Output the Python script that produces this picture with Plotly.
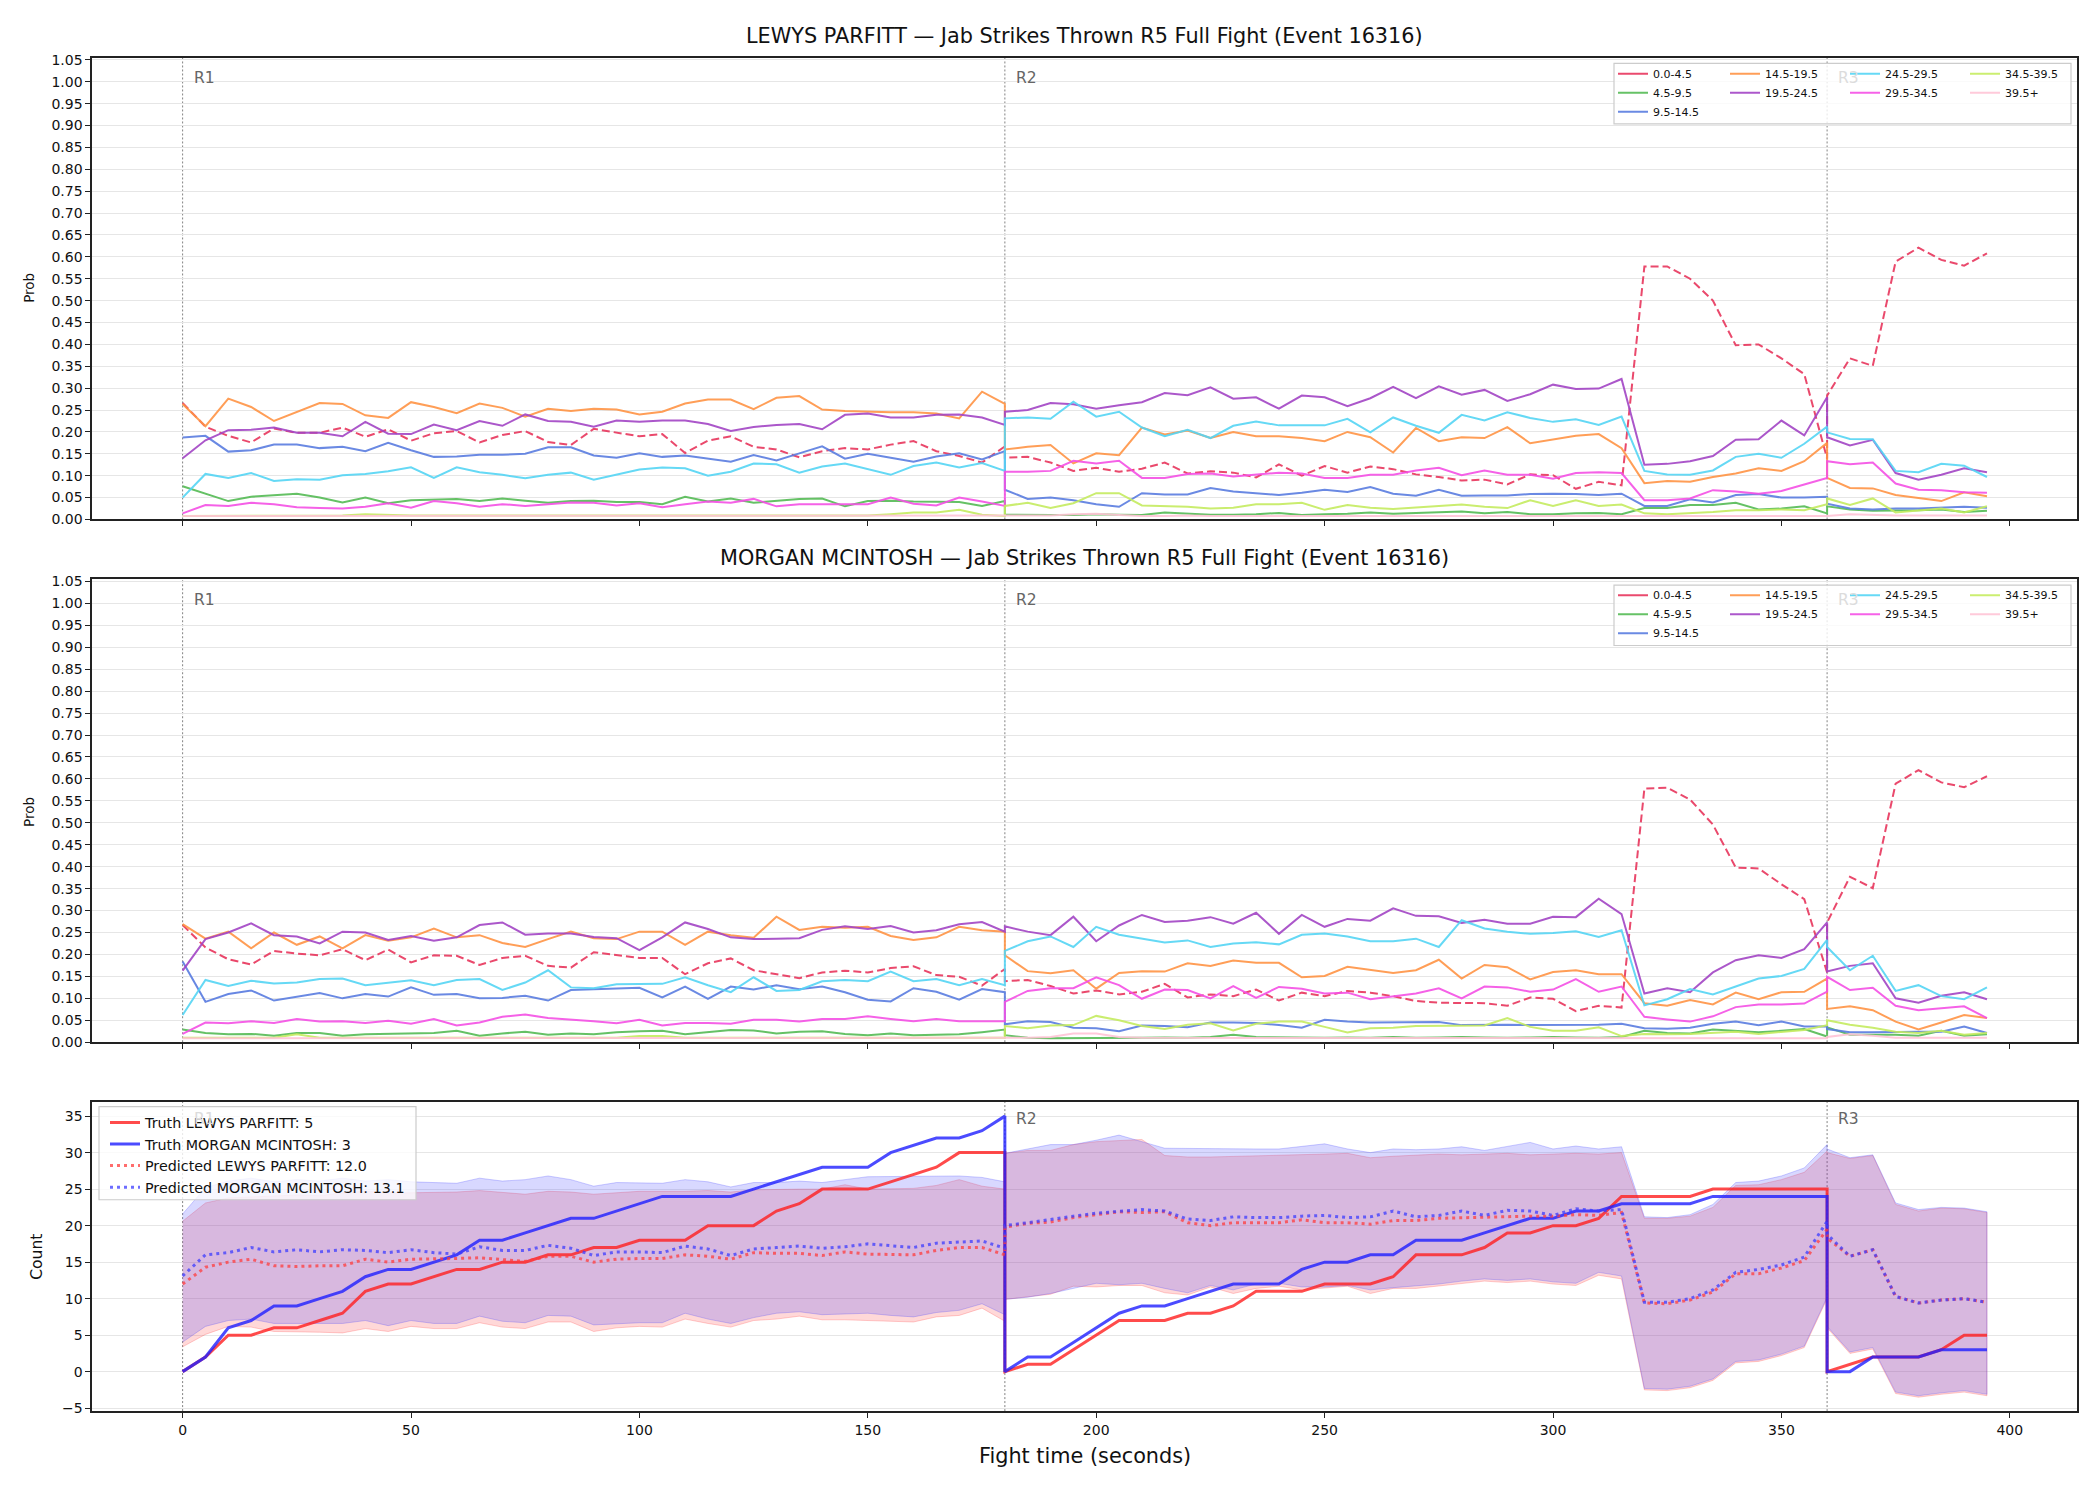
import plotly.graph_objects as go

# ---------------- time axis (seconds); rounds share boundary points ----------------
T_R1 = list(range(0, 181, 5))
T_R2 = list(range(180, 361, 5))
T_R3 = list(range(360, 396, 5))
TIME = T_R1 + T_R2 + T_R3
ROUND_STARTS = [0, 180, 360]
ROUND_LABELS = ["R1", "R2", "R3"]

BINS = ["0.0-4.5", "4.5-9.5", "9.5-14.5", "14.5-19.5", "19.5-24.5",
        "24.5-29.5", "29.5-34.5", "34.5-39.5", "39.5+"]
BIN_COLORS = ["#e8365d", "#55bb55", "#5a7de0", "#ff9445", "#a345c5",
              "#55d5f5", "#f550e5", "#c5ec60", "#ffc4d6"]

# ---------------- LEWYS PARFITT probabilities ----------------
LP_00 = ([.266, .212, .191, .176, .208, .198, .198, .21, .189, .206, .18, .197, .202, .176, .193, .202, .177, .17, .207,
          .198, .19, .195, .152, .18, .19, .166, .16, .142, .156, .163, .16, .171, .179, .156, .145, .13, .167]
         + [.141, .143, .13, .111, .118, .109, .116, .13, .105, .11, .107, .096, .126, .10, .122, .107, .121, .115,
            .103, .097, .089, .091, .08, .103, .101, .07, .086, .078, .578, .578, .55, .50, .398, .40, .368, .332, .139]
         + [.283, .368, .351, .589, .621, .593, .58, .608])
LP_45 = ([.076, .059, .042, .052, .055, .059, .05, .039, .05, .037, .044, .046, .047, .042, .048, .043, .038, .042, .043,
          .04, .04, .035, .052, .041, .048, .038, .043, .047, .048, .03, .042, .043, .041, .04, .04, .031, .042]
         + [.011, .01, .01, .01, .012, .011, .01, .016, .013, .011, .011, .012, .015, .01, .012, .013, .016, .013,
            .015, .017, .018, .014, .017, .012, .012, .014, .015, .012, .026, .026, .033, .033, .038, .023, .025, .03, .014]
         + [.03, .023, .02, .02, .021, .023, .017, .02])
LP_95 = ([.187, .191, .155, .158, .171, .171, .163, .166, .156, .175, .158, .143, .144, .148, .148, .15, .165, .165, .146,
          .141, .151, .143, .146, .139, .132, .147, .135, .151, .167, .139, .15, .141, .132, .144, .151, .137, .156]
         + [.068, .047, .05, .044, .035, .029, .06, .057, .057, .072, .064, .06, .056, .061, .068, .063, .074, .059,
            .054, .068, .054, .055, .055, .058, .059, .058, .056, .059, .031, .031, .046, .039, .056, .058, .05, .05, .052]
         + [.036, .025, .023, .025, .025, .027, .029, .027])
LP_145 = ([.264, .213, .276, .257, .225, .246, .266, .264, .238, .232, .268, .257, .243, .265, .255, .235, .253, .248, .253,
           .251, .24, .246, .265, .274, .274, .252, .278, .282, .251, .248, .246, .245, .245, .242, .231, .292, .264]
          + [.16, .166, .17, .128, .151, .147, .21, .194, .203, .186, .20, .19, .19, .186, .179, .20, .188, .153,
             .209, .179, .188, .186, .211, .174, .183, .191, .195, .163, .083, .088, .086, .097, .105, .117, .111, .133, .175]
          + [.095, .072, .071, .056, .049, .042, .062, .053])
LP_195 = ([.14, .181, .204, .205, .21, .198, .198, .19, .223, .196, .195, .217, .204, .225, .214, .24, .225, .223, .212,
           .226, .223, .226, .226, .218, .202, .211, .216, .218, .206, .239, .242, .233, .233, .239, .24, .233, .216]
          + [.246, .25, .266, .263, .253, .261, .268, .289, .284, .302, .276, .279, .253, .283, .279, .259, .277, .303,
             .277, .304, .285, .296, .271, .286, .308, .298, .299, .321, .125, .127, .133, .145, .182, .183, .226, .192, .279]
          + [.188, .169, .182, .106, .091, .102, .117, .108])
LP_245 = ([.05, .104, .095, .106, .088, .092, .091, .101, .104, .11, .119, .095, .119, .108, .102, .094, .102, .107, .091,
           .103, .114, .119, .117, .10, .109, .128, .126, .107, .121, .128, .115, .102, .122, .13, .119, .129, .111]
          + [.231, .233, .23, .269, .235, .246, .21, .19, .205, .186, .214, .224, .215, .215, .215, .23, .199, .233,
             .214, .198, .239, .226, .245, .232, .223, .229, .216, .235, .111, .103, .102, .112, .143, .15, .141, .173, .212]
          + [.199, .184, .183, .111, .108, .127, .123, .097])
LP_295 = ([.014, .033, .031, .038, .035, .028, .026, .025, .029, .037, .027, .042, .037, .029, .035, .031, .035, .039, .038,
           .032, .037, .028, .035, .041, .038, .047, .03, .035, .035, .035, .035, .05, .036, .032, .05, .041, .031]
          + [.109, .109, .111, .134, .128, .134, .095, .095, .104, .105, .098, .102, .107, .105, .095, .095, .102, .102,
             .112, .118, .101, .112, .102, .102, .093, .106, .108, .106, .044, .044, .048, .067, .064, .059, .065, .08, .095]
          + [.133, .126, .13, .082, .068, .067, .062, .061])
LP_345 = ([.008, .008, .008, .008, .008, .008, .008, .009, .012, .01, .009, .009, .009, .009, .009, .009, .009, .009, .009,
           .009, .009, .009, .009, .009, .009, .009, .009, .009, .009, .009, .009, .012, .016, .016, .022, .011, .008]
          + [.031, .038, .026, .037, .06, .06, .032, .031, .029, .025, .027, .035, .035, .038, .022, .033, .027, .024,
             .027, .031, .034, .029, .026, .044, .031, .044, .031, .034, .014, .012, .014, .017, .021, .021, .023, .021, .035]
          + [.048, .033, .048, .016, .021, .025, .016, .03])
LP_395 = ([.008] * 37
          + [.008, .008, .009, .012, .013, .01, .008, .008, .009, .008, .008, .009, .008, .008, .008, .009, .008, .008,
             .008, .008, .008, .008, .008, .008, .008, .008, .008, .008, .008, .008, .008, .008, .008, .008, .008, .008, .008]
          + [.008, .012, .01, .009, .009, .009, .009, .009])

# ---------------- MORGAN MCINTOSH probabilities ----------------
MM_00 = ([.267, .216, .189, .177, .208, .202, .198, .212, .187, .211, .182, .198, .197, .176, .192, .197, .174, .17, .205,
          .198, .192, .192, .155, .18, .191, .164, .155, .146, .159, .163, .159, .169, .173, .153, .149, .129, .167]
         + [.139, .142, .128, .111, .118, .109, .115, .133, .102, .109, .105, .12, .095, .113, .105, .117, .113, .105,
            .094, .09, .09, .089, .083, .102, .099, .071, .083, .079, .578, .58, .553, .496, .398, .396, .36, .326, .159]
         + [.273, .377, .351, .589, .62, .592, .581, .606])
MM_45 = ([.029, .021, .018, .019, .015, .021, .021, .015, .018, .019, .02, .021, .026, .015, .02, .024, .017, .02, .018,
          .023, .025, .026, .018, .023, .028, .027, .02, .024, .025, .019, .016, .02, .016, .017, .018, .023, .029]
         + [.016, .01, .009, .009, .01, .009, .01, .011, .01, .012, .017, .012, .011, .01, .01, .011, .01, .012,
            .01, .011, .012, .011, .01, .011, .012, .011, .01, .012, .026, .021, .02, .029, .026, .023, .026, .03, .013]
         + [.034, .017, .017, .017, .015, .026, .015, .018])
MM_95 = ([.184, .092, .11, .118, .095, .104, .112, .10, .11, .104, .125, .108, .11, .10, .101, .106, .095, .119, .121,
          .123, .124, .102, .127, .099, .127, .12, .13, .121, .127, .114, .097, .093, .123, .115, .097, .121, .114]
         + [.041, .048, .046, .033, .032, .025, .038, .037, .034, .045, .045, .044, .039, .033, .051, .047, .045, .045,
            .046, .046, .039, .04, .04, .039, .039, .039, .04, .042, .032, .031, .033, .042, .047, .039, .047, .036, .036]
         + [.03, .023, .023, .024, .024, .024, .036, .021])
MM_145 = ([.269, .236, .252, .214, .25, .222, .241, .214, .244, .231, .239, .259, .239, .244, .226, .217, .235, .252, .237,
           .235, .252, .252, .222, .252, .244, .238, .286, .256, .263, .261, .263, .242, .233, .239, .263, .255, .252]
          + [.198, .162, .157, .164, .122, .158, .162, .161, .18, .174, .186, .181, .181, .148, .151, .172, .165, .158,
             .164, .188, .145, .176, .171, .143, .16, .164, .155, .155, .089, .083, .096, .086, .113, .098, .114, .115, .145]
          + [.076, .082, .073, .047, .029, .045, .062, .055])
MM_195 = ([.163, .235, .25, .271, .244, .241, .225, .252, .25, .233, .242, .231, .239, .267, .273, .245, .248, .248, .24,
           .237, .21, .239, .273, .258, .239, .235, .236, .237, .256, .264, .258, .265, .25, .255, .269, .274, .252]
          + [.264, .252, .244, .286, .23, .266, .29, .274, .277, .285, .27, .295, .247, .29, .263, .281, .277, .305,
             .288, .287, .272, .279, .27, .27, .286, .285, .327, .292, .111, .123, .114, .159, .187, .198, .192, .212, .273]
          + [.161, .174, .18, .10, .09, .106, .114, .098])
MM_245 = ([.062, .142, .128, .14, .134, .136, .144, .145, .13, .136, .141, .13, .142, .144, .119, .136, .164, .125, .123,
           .132, .132, .133, .148, .13, .114, .148, .117, .119, .139, .142, .139, .161, .139, .144, .13, .144, .13]
          + [.208, .23, .241, .217, .263, .245, .236, .227, .232, .217, .225, .228, .223, .245, .248, .241, .23, .23,
             .236, .217, .278, .259, .252, .247, .249, .253, .24, .255, .084, .098, .121, .109, .127, .145, .151, .167, .233]
          + [.217, .164, .197, .117, .13, .105, .098, .125])
MM_295 = ([.019, .045, .043, .048, .044, .053, .047, .048, .044, .049, .042, .053, .038, .045, .058, .063, .055, .052, .048,
           .043, .051, .038, .044, .044, .042, .051, .051, .047, .053, .053, .059, .053, .048, .053, .048, .048, .048]
          + [.092, .117, .123, .123, .148, .13, .099, .12, .119, .10, .128, .101, .126, .122, .111, .113, .098, .105,
             .111, .123, .10, .127, .125, .115, .12, .144, .115, .127, .058, .052, .047, .059, .08, .086, .086, .088, .115]
          + [.149, .119, .124, .083, .073, .077, .082, .055])
MM_345 = ([.01, .01, .01, .01, .01, .018, .01, .01, .01, .01, .01, .01, .01, .01, .01, .01, .01, .01, .01,
           .01, .014, .014, .01, .01, .01, .01, .01, .01, .01, .01, .01, .01, .01, .01, .01, .01, .01]
          + [.037, .032, .038, .039, .06, .05, .037, .03, .04, .043, .027, .042, .047, .047, .035, .022, .032, .033,
             .037, .037, .037, .038, .055, .035, .026, .026, .034, .014, .019, .018, .019, .021, .024, .019, .024, .028, .039]
          + [.05, .04, .033, .024, .021, .026, .017, .021])
MM_395 = ([.009] * 37
          + [.01, .01, .012, .02, .02, .012, .01, .01, .01, .01, .01, .01, .01, .01, .01, .01, .01, .01,
             .01, .01, .01, .01, .01, .01, .01, .01, .01, .01, .009, .009, .009, .009, .009, .009, .009, .009, .009]
          + [.012, .018, .015, .01, .01, .01, .01, .01])

# ---------------- counts ----------------
TRUTH_LP = ([0, 2, 5, 5, 6, 6, 7, 8, 11, 12, 12, 13, 14, 14, 15, 15, 16, 16, 17, 17, 18, 18, 18, 20, 20, 20, 22, 23, 25,
             25, 25, 26, 27, 28, 30, 30, 30]
            + [0, 1, 1, 3, 5, 7, 7, 7, 8, 8, 9, 11, 11, 11, 12, 12, 12, 13, 16, 16, 16, 17, 19, 19, 20, 20, 21, 24,
               24, 24, 24, 25, 25, 25, 25, 25, 25]
            + [0, 1, 2, 2, 2, 3, 5, 5])
TRUTH_MM = ([0, 2, 6, 7, 9, 9, 10, 11, 13, 14, 14, 15, 16, 18, 18, 19, 20, 21, 21, 22, 23, 24, 24, 24, 24, 25, 26, 27, 28,
             28, 28, 30, 31, 32, 32, 33, 35]
            + [0, 2, 2, 4, 6, 8, 9, 9, 10, 11, 12, 12, 12, 14, 15, 15, 16, 16, 18, 18, 18, 19, 20, 21, 21, 22, 22, 23,
               23, 23, 23, 24, 24, 24, 24, 24, 24]
            + [0, 0, 2, 2, 2, 3, 3, 3])
PRED_LP = ([12.0, 14.3, 15.0, 15.4, 14.5, 14.4, 14.5, 14.5, 15.4, 15.0, 15.4, 15.4, 15.5, 15.6, 15.4, 15.1, 15.8, 15.8,
            15.0, 15.4, 15.5, 15.5, 16.0, 15.8, 15.4, 16.3, 16.2, 16.2, 15.9, 16.4, 16.1, 16.0, 16.0, 16.6, 17.0, 17.0, 16.0]
           + [19.8, 20.3, 20.5, 21.1, 21.5, 21.9, 21.8, 21.9, 20.4, 20.0, 20.4, 20.4, 20.4, 20.8, 20.4, 20.4, 20.2, 20.7,
              20.7, 21.0, 21.1, 21.2, 21.2, 21.3, 21.3, 21.5, 21.4, 21.8, 9.4, 9.3, 9.8, 10.9, 13.4, 13.4, 14.2, 15.2, 19.5]
           + [18.3, 15.8, 16.7, 10.3, 9.4, 9.8, 10.0, 9.5])
PRED_MM = ([13.1, 16.0, 16.3, 17.0, 16.4, 16.7, 16.4, 16.7, 16.6, 16.3, 16.7, 16.3, 16.1, 17.1, 16.6, 16.6, 17.3, 16.9,
            15.9, 16.4, 16.4, 16.3, 17.2, 16.8, 15.9, 16.8, 17.0, 17.2, 16.9, 17.1, 17.5, 17.3, 17.0, 17.6, 17.8, 17.9, 16.9]
           + [20.0, 20.4, 20.9, 21.3, 21.7, 22.0, 22.2, 22.0, 20.9, 20.7, 21.2, 21.1, 21.1, 21.3, 21.4, 21.1, 21.2, 22.0,
              21.2, 21.4, 22.0, 21.4, 22.1, 22.0, 21.4, 22.3, 22.0, 22.2, 9.5, 9.5, 10.0, 11.2, 13.6, 14.0, 14.6, 15.7, 20.6]
           + [18.8, 15.8, 16.7, 10.3, 9.4, 9.8, 10.0, 9.5])
UPPER_LP = ([20.6, 23.1, 23.8, 24.0, 24.1, 24.2, 24.1, 24.5, 24.7, 24.5, 24.5, 24.5, 24.6, 24.8, 24.5, 24.3, 24.7, 24.6,
             24.3, 24.5, 24.7, 24.7, 24.7, 24.8, 24.6, 24.9, 24.9, 25.0, 25.0, 25.6, 25.0, 25.1, 25.1, 25.5, 26.3, 25.4, 25.0]
            + [29.9, 30.3, 30.3, 31.1, 31.5, 31.7, 31.8, 29.6, 29.4, 29.4, 29.5, 29.5, 29.6, 29.7, 29.8, 29.9, 29.3, 29.5,
               29.7, 29.8, 29.7, 29.8, 29.9, 29.7, 29.8, 29.9, 29.8, 30.0, 21.0, 21.0, 21.3, 22.5, 25.5, 25.6, 26.3, 27.3, 30.2]
            + [30.0, 29.2, 29.6, 22.9, 22.0, 22.4, 22.3, 21.8])
LOWER_LP = ([3.4, 5.1, 6.2, 6.1, 5.5, 5.5, 5.4, 5.3, 5.9, 5.5, 6.2, 5.9, 5.9, 6.7, 6.1, 5.9, 6.8, 6.8, 5.5, 6.0, 6.2,
             6.1, 7.2, 6.6, 6.1, 7.0, 7.2, 7.6, 7.1, 7.1, 7.0, 6.8, 6.8, 7.5, 7.7, 8.7, 6.9]
            + [9.9, 10.2, 10.6, 11.7, 11.6, 11.8, 11.8, 10.8, 10.5, 11.6, 10.7, 11.4, 11.7, 11.2, 11.5, 11.7, 10.7, 11.4,
               11.4, 11.7, 12.1, 12.4, 12.2, 12.4, 12.0, 11.8, 13.2, 12.7, -2.5, -2.6, -2.2, -1.2, 1.2, 1.4, 2.2, 3.3, 10.0]
            + [6.0, 2.5, 3.1, -3.0, -3.5, -3.1, -2.8, -3.3])
UPPER_MM = ([21.6, 25.2, 26.1, 26.5, 26.0, 26.3, 26.1, 26.5, 26.1, 26.3, 26.0, 25.9, 25.8, 26.5, 26.1, 26.3, 26.8, 26.3,
             25.4, 25.9, 25.9, 25.8, 26.3, 26.0, 25.3, 25.9, 25.9, 26.1, 25.9, 26.3, 26.7, 26.7, 26.7, 26.8, 26.8, 26.6, 26.0]
            + [29.9, 30.5, 31.1, 31.1, 31.7, 32.4, 31.5, 30.6, 30.6, 30.6, 30.5, 30.5, 30.5, 30.8, 31.2, 30.5, 30.0, 30.5,
               30.4, 30.5, 30.8, 30.3, 30.9, 31.4, 30.5, 30.9, 30.5, 30.8, 21.2, 21.1, 21.5, 22.9, 25.9, 26.1, 26.8, 27.9, 31.1]
            + [30.5, 29.3, 29.7, 23.1, 22.2, 22.5, 22.4, 21.9])
LOWER_MM = ([4.05, 6.2, 7.0, 7.2, 6.6, 6.6, 6.6, 6.6, 7.0, 6.3, 7.0, 6.6, 6.6, 7.6, 6.9, 6.7, 7.7, 7.6, 6.4, 6.6, 6.7,
             6.7, 8.0, 7.2, 6.6, 7.4, 8.0, 8.2, 7.8, 7.9, 8.0, 7.7, 7.5, 8.1, 8.4, 9.3, 7.8]
            + [9.9, 10.2, 10.7, 11.4, 12.1, 11.9, 12.1, 11.4, 10.8, 11.8, 11.2, 12.0, 12.1, 11.6, 11.6, 11.8, 11.2, 11.5,
               11.7, 12.0, 12.4, 12.7, 12.5, 12.7, 12.3, 12.1, 13.6, 13.1, -2.3, -2.4, -2.0, -1.0, 1.4, 1.6, 2.4, 3.5, 10.2]
            + [6.2, 2.7, 3.3, -2.8, -3.3, -2.9, -2.6, -3.1])

LP_SERIES = [LP_00, LP_45, LP_95, LP_145, LP_195, LP_245, LP_295, LP_345, LP_395]
MM_SERIES = [MM_00, MM_45, MM_95, MM_145, MM_195, MM_245, MM_295, MM_345, MM_395]
for s in LP_SERIES + MM_SERIES + [TRUTH_LP, TRUTH_MM, PRED_LP, PRED_MM, UPPER_LP, LOWER_LP, UPPER_MM, LOWER_MM]:
    assert len(s) == len(TIME), len(s)

FINAL_TRUTH = {"LEWYS PARFITT": 5, "MORGAN MCINTOSH": 3}
FINAL_PRED = {"LEWYS PARFITT": 12.0, "MORGAN MCINTOSH": 13.1}

# ---------------- layout geometry (pixels of a 2100x1500 canvas) ----------------
W, H = 2100, 1500
def px(x): return x / W
def py(y): return 1 - y / H

X_DOM = [px(92.4), px(2077.2)]
PANELS = [(52.2, 518.3), (578.6, 1046.0), (1106.2, 1418.3)]
FONT = "DejaVu Sans"

fig = go.Figure()

# column placement of the 9 bins in the matplotlib-style 4-column legend
COL_OF_BIN = [0, 0, 0, 1, 1, 2, 2, 3, 3]
COL_TEXT_X = [1655, 1767, 1887, 2007]

for p, series in enumerate([LP_SERIES, MM_SERIES]):
    xa = "x" if p == 0 else "x2"
    ya = "y" if p == 0 else "y2"
    for i, (name, col, vals) in enumerate(zip(BINS, BIN_COLORS, series)):
        leg_idx = p * 4 + COL_OF_BIN[i] + 1
        leg = "legend" if leg_idx == 1 else f"legend{leg_idx}"
        if i == 0:
            # dashed data line; legend shows a solid handle (proxy entry without data)
            fig.add_trace(go.Scatter(x=[None], y=[None], mode="lines", name=name,
                                     line=dict(color=col, width=2), opacity=0.9, xaxis=xa, yaxis=ya,
                                     legend=leg, hoverinfo="skip"))
        fig.add_trace(go.Scatter(
            x=TIME, y=vals, mode="lines", name=name,
            line=dict(color=col, width=2, dash="8px,4px" if i == 0 else "solid"),
            opacity=0.9, xaxis=xa, yaxis=ya, legend=leg, showlegend=(i != 0),
            hoverinfo="skip"))

# count panel: bands
def band(lower, upper, rgb, name):
    xs = TIME + TIME[::-1]
    ys = lower + upper[::-1]
    return go.Scatter(x=xs, y=ys, mode="lines", fill="toself",
                      fillcolor=f"rgba({rgb},0.2)", line=dict(color=f"rgba({rgb},0.25)", width=1),
                      xaxis="x3", yaxis="y3", showlegend=False, hoverinfo="skip", name=name)

fig.add_trace(band(LOWER_LP, UPPER_LP, "255,60,60", "band LP"))
fig.add_trace(band(LOWER_MM, UPPER_MM, "60,60,255", "band MM"))

fig.add_trace(go.Scatter(x=TIME, y=TRUTH_LP, mode="lines", name=f"Truth LEWYS PARFITT: {FINAL_TRUTH['LEWYS PARFITT']}",
                         line=dict(color="rgba(255,30,30,0.8)", width=3), xaxis="x3", yaxis="y3", legend="legend9"))
fig.add_trace(go.Scatter(x=TIME, y=TRUTH_MM, mode="lines", name=f"Truth MORGAN MCINTOSH: {FINAL_TRUTH['MORGAN MCINTOSH']}",
                         line=dict(color="rgba(30,30,255,0.8)", width=3), xaxis="x3", yaxis="y3", legend="legend9"))
fig.add_trace(go.Scatter(x=TIME, y=PRED_LP, mode="lines", name=f"Predicted LEWYS PARFITT: {FINAL_PRED['LEWYS PARFITT']:.1f}",
                         line=dict(color="rgba(255,60,60,0.75)", width=3, dash="3px,4px"), xaxis="x3", yaxis="y3",
                         legend="legend9"))
fig.add_trace(go.Scatter(x=TIME, y=PRED_MM, mode="lines", name=f"Predicted MORGAN MCINTOSH: {FINAL_PRED['MORGAN MCINTOSH']:.1f}",
                         line=dict(color="rgba(60,60,255,0.75)", width=3, dash="3px,4px"), xaxis="x3", yaxis="y3",
                         legend="legend9"))

# ---------------- axes ----------------
axis_common = dict(showline=True, mirror=True, linecolor="#222222", linewidth=2, ticks="outside", ticklen=5,
                   tickwidth=1.3, tickcolor="#222222", zeroline=False,
                   tickfont=dict(family=FONT, size=14, color="#111111"))
layout = dict(width=W, height=H, margin=dict(l=0, r=0, t=0, b=0), paper_bgcolor="white", plot_bgcolor="white",
              font=dict(family=FONT, color="#111111"), hovermode=False)
for k, (top, bot) in enumerate(PANELS):
    sfx = "" if k == 0 else str(k + 1)
    layout[f"xaxis{sfx}"] = dict(axis_common, domain=X_DOM, range=[-19.75, 414.75], anchor=f"y{sfx}",
                                 tickvals=list(range(0, 401, 50)), showgrid=False,
                                 showticklabels=(k == 2))
    if k < 2:
        layout[f"yaxis{sfx}"] = dict(axis_common, domain=[py(bot), py(top)], range=[0, 1.055], anchor=f"x{sfx}",
                                     tickvals=[round(0.05 * i, 2) for i in range(22)], tickformat=".2f",
                                     showgrid=True, gridcolor="#e6e6e6", gridwidth=1)
    else:
        layout[f"yaxis{sfx}"] = dict(axis_common, domain=[py(bot), py(top)], range=[-5.4, 36.95], anchor=f"x{sfx}",
                                     tickvals=list(range(-5, 36, 5)), ticktext=["\u22125"] + [str(v) for v in range(0, 36, 5)],
                                     showgrid=True, gridcolor="#e6e6e6", gridwidth=1)

# ---------------- legends ----------------
leg_font_small = dict(family=FONT, size=11, color="#111111")
for p, (top, _) in enumerate(PANELS[:2]):
    for c in range(4):
        idx = p * 4 + c + 1
        key = "legend" if idx == 1 else f"legend{idx}"
        layout[key] = dict(x=px(COL_TEXT_X[c] - 42), y=py(top + 1.5), xanchor="left", yanchor="top",
                           bgcolor="rgba(0,0,0,0)", borderwidth=0, font=leg_font_small,
                           itemwidth=30, tracegroupgap=0)
layout["legend9"] = dict(x=px(147 - 42), y=py(1111), xanchor="left", yanchor="top", bgcolor="rgba(0,0,0,0)",
                         borderwidth=0, font=dict(family=FONT, size=14.3, color="#111111"), itemwidth=30)

# ---------------- shapes: round markers and legend boxes ----------------
shapes = []
annotations = []
for k, (top, bot) in enumerate(PANELS):
    sfx = "" if k == 0 else str(k + 1)
    for r, t0 in enumerate(ROUND_STARTS):
        shapes.append(dict(type="line", xref=f"x{sfx}", yref=f"y{sfx} domain", x0=t0, x1=t0, y0=0, y1=1,
                           line=dict(color="rgba(90,90,90,0.75)", width=1, dash="2px,2px"), layer="below"))
        hidden = (k < 2 and r == 2) or (k == 2 and r == 0)
        annotations.append(dict(text=ROUND_LABELS[r], xref=f"x{sfx}", yref=f"y{sfx}", x=t0 + 2,
                                y=(1.008 if k < 2 else 34.6), xanchor="left", yanchor="middle", showarrow=False,
                                font=dict(family=FONT, size=15.5, color="#dcdcdc" if hidden else "#666666")))

box_style = dict(type="rect", xref="paper", yref="paper", fillcolor="rgba(255,255,255,0.8)",
                 line=dict(color="#cccccc", width=1.2), layer="above")
shapes.append(dict(box_style, x0=px(1614), x1=px(2071), y0=py(119), y1=py(58)))
shapes.append(dict(box_style, x0=px(1614), x1=px(2071), y0=py(645.5), y1=py(584.5)))
shapes.append(dict(box_style, x0=px(99), x1=px(416), y0=py(1205), y1=py(1111)))

# titles and axis labels
for (top, _), who in zip(PANELS[:2], ["LEWYS PARFITT", "MORGAN MCINTOSH"]):
    annotations.append(dict(text=f"{who} \u2014 Jab Strikes Thrown R5 Full Fight (Event 16316)", xref="paper",
                            yref="paper", x=(X_DOM[0] + X_DOM[1]) / 2, y=py(top - 21.5), xanchor="center",
                            yanchor="middle", showarrow=False, font=dict(family=FONT, size=20.8, color="#111111")))
for yc in [285, 814]:
    annotations.append(dict(text="Prob", xref="paper", yref="paper", x=px(29.5), y=py(yc), textangle=-90,
                            xanchor="center", yanchor="middle", showarrow=False,
                            font=dict(family=FONT, size=13.5, color="#111111")))
annotations.append(dict(text="Count", xref="paper", yref="paper", x=px(37.5), y=py(1263), textangle=-90,
                        xanchor="center", yanchor="middle", showarrow=False,
                        font=dict(family=FONT, size=15.5, color="#111111")))
annotations.append(dict(text="Fight time (seconds)", xref="paper", yref="paper", x=(X_DOM[0] + X_DOM[1]) / 2,
                        y=py(1464), xanchor="center", yanchor="middle", showarrow=False,
                        font=dict(family=FONT, size=20.8, color="#111111")))

layout["shapes"] = shapes
layout["annotations"] = annotations
fig.update_layout(**layout)
fig.write_html("out.html")
